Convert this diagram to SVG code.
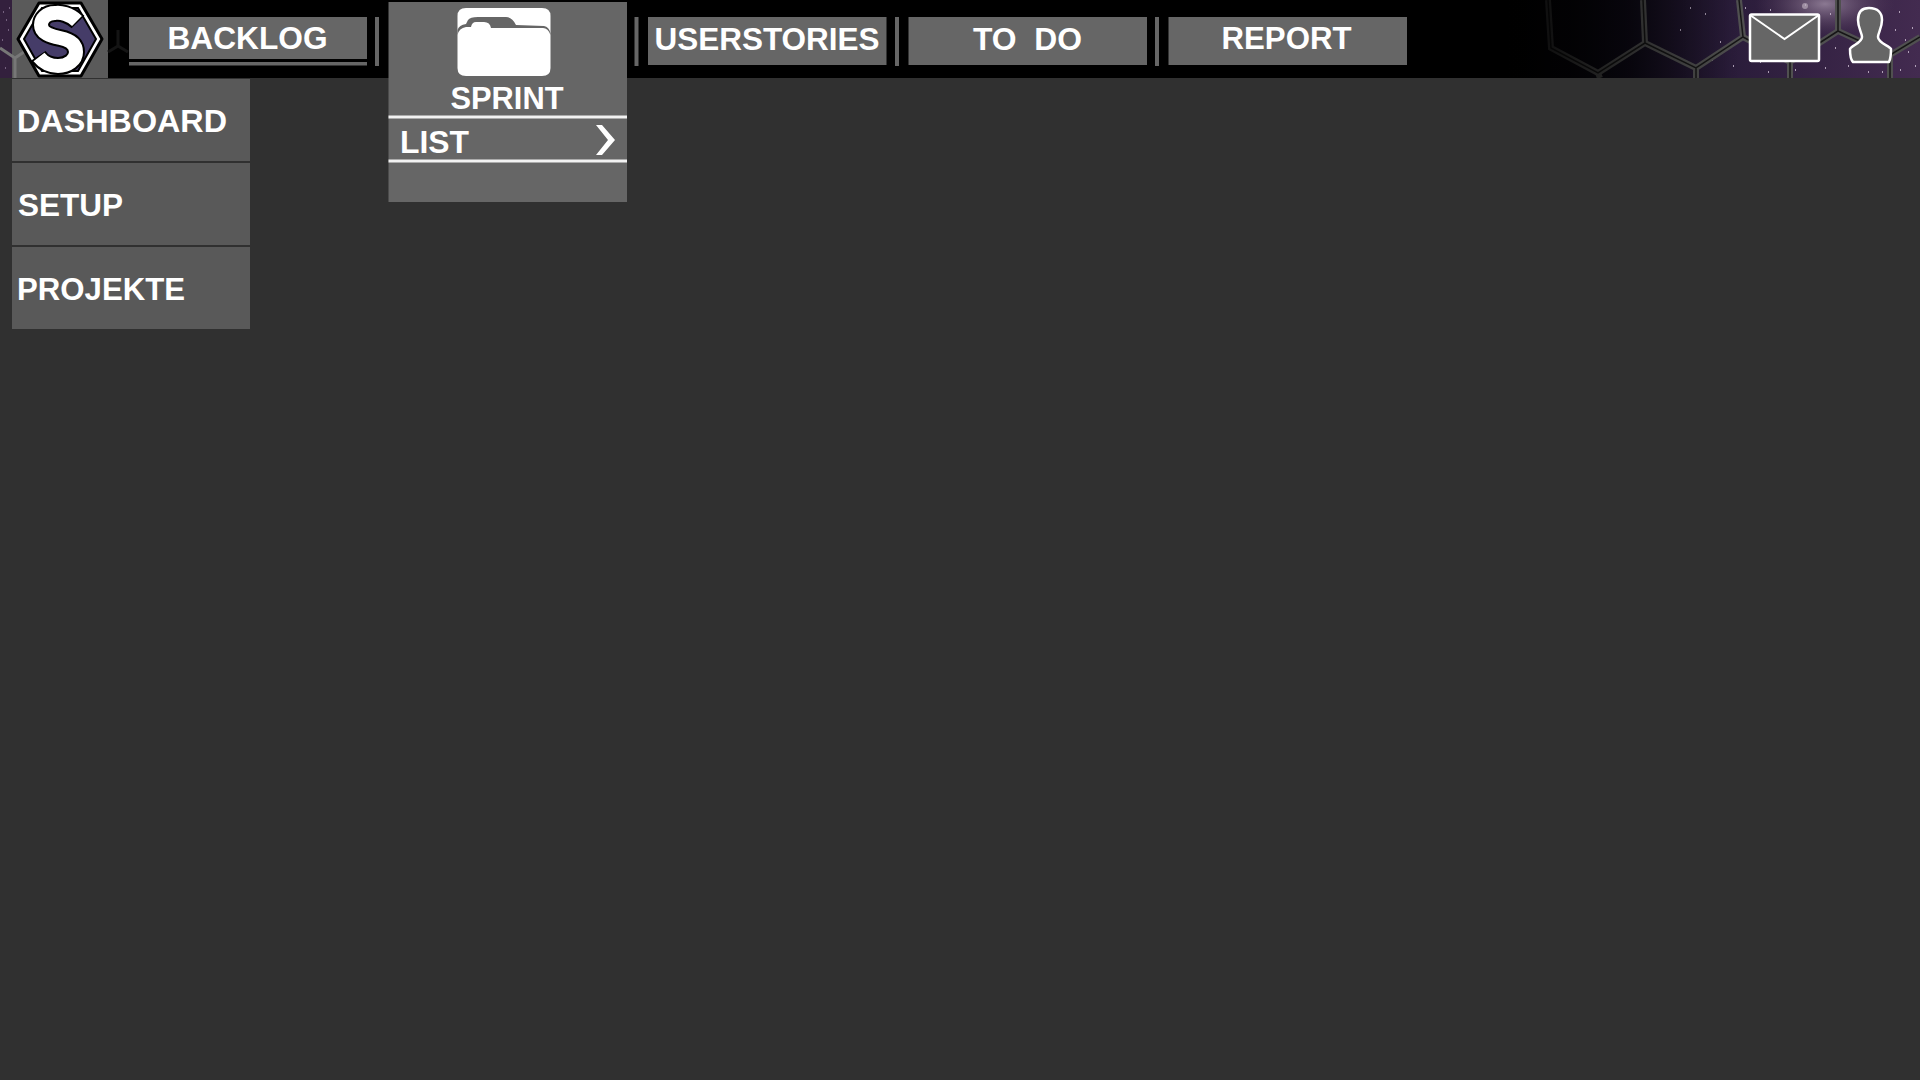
<svg xmlns="http://www.w3.org/2000/svg" width="1920" height="1080" viewBox="0 0 1920 1080">
<style>
.t{font-family:"Liberation Sans",Arial,sans-serif;font-weight:700;font-size:32px;fill:#fff}
.nav{fill:#666}
.side{fill:#595959}
.div{fill:#666}
.hex{fill:none;stroke:#505050;stroke-width:6}
.hexc{fill:none;stroke:#161616;stroke-width:1.500}
.ic{fill:#666;stroke:#fff;stroke-width:2.500;stroke-linejoin:round}
</style>
<defs>
<linearGradient id="sky" x1="0" y1="0" x2="1" y2="0">
<stop offset="0" stop-color="#000"/><stop offset=".3" stop-color="#0d0a16"/><stop offset=".55" stop-color="#2a1c3a"/><stop offset="1" stop-color="#432b50"/>
</linearGradient>
<linearGradient id="fade" x1="0" y1="0" x2="1" y2="0">
<stop offset="0" stop-color="#000"/><stop offset=".4" stop-color="#000" stop-opacity=".6"/><stop offset="1" stop-color="#000" stop-opacity="0"/>
</linearGradient>
<radialGradient id="neb"><stop offset="0" stop-color="#9a88a0" stop-opacity=".85"/><stop offset="1" stop-color="#5a4260" stop-opacity="0"/></radialGradient>
<clipPath id="hdr"><rect width="1920" height="78"/></clipPath>
</defs>
<rect id="page" width="1920" height="1080" fill="#303030"/>
<g id="header" clip-path="url(#hdr)">
<rect width="1920" height="78" fill="#000"/>
<rect x="1500" width="420" height="78" fill="url(#sky)"/>
<ellipse cx="1825" cy="4" rx="70" ry="32" fill="url(#neb)"/>
<path d="M1770 10h1M1781 22h1M1805 5h1M1812 30h1M1860 18h1M1873 40h1M1899 12h1M1908 52h1M1835 48h1M1760 62h1M1795 70h1M1848 66h1M1882 72h1M1705 14h1M1720 42h1M1680 30h1M1660 50h1M1900 70h1M1752 30h1M1830 14h1M1745 8h1M1768 72h1M1825 68h1M1858 52h1M1912 28h1M1895 30h1M1800 55h1M1776 48h1M1733 66h1M1712 60h1M1690 8h1M1868 72h1M1915 66h1M1905 40h1" stroke="#d6c8dc" stroke-width="1.400" fill="none"/>
<circle cx="1805" cy="6" r="3" fill="#b7a8b8" opacity=".7"/>
<g id="hexes">
<path class="hex" d="M1548 0L1551 48L1598 73L1645 43L1643 0M1645 43L1696 68L1743 37L1739 0M1696 68V78M1598 73L1600 78M1743 37L1790 62V78M1790 62L1838 31V0M1838 31L1890 55V78M1890 55L1920 37"/>
<path class="hexc" d="M1548 0L1551 48L1598 73L1645 43L1643 0M1645 43L1696 68L1743 37L1739 0M1696 68V78M1743 37L1790 62V78M1790 62L1838 31V0M1838 31L1890 55V78M1890 55L1920 37"/>
</g>
<rect x="1500" width="240" height="78" fill="url(#fade)"/>
<rect x="0" width="12" height="78" fill="#33203d"/>
<rect x="12" width="96" height="78" fill="#5a5a5a"/>
<path d="M0 48L15 58V78M15 58L30 48" fill="none" stroke="#777" stroke-width="3"/>
<path d="M3 12h1M8 30h1M5 68h1M2 40h1M9 8h1M6 20h1" stroke="#b59fc0" stroke-width="1.200"/>
<path d="M108 52L118 46L128 52M118 46V30" fill="none" stroke="#141414" stroke-width="3"/>
</g>
<g id="logo">
<path d="M39 3H81L102 39L81 76H39L18 39Z" fill="#fff" stroke="#000" stroke-width="3" stroke-linejoin="round"/>
<path d="M42 8H78L96 39L78 71H42L24 39Z" fill="#453c68" stroke="#000" stroke-width="2"/>
<path d="M78 22C70 14 60 12 55 13C46 13 41 19 41 25C41 33 50 36 60 38C70 40 76 44 76 52C76 60 68 66 58 66C50 66 42 62 38 56" fill="none" stroke="#000" stroke-width="18"/>
<path d="M77 21C70 14 60 12 55 13C46 13 41 19 41 25C41 33 50 36 60 38C70 40 76 44 76 52C76 60 68 66 58 66C50 66 43 62 39 57" fill="none" stroke="#fff" stroke-width="14"/>
</g>
<g id="nav-backlog">
<rect class="nav" x="129" y="17" width="238" height="42"/><rect class="nav" x="129" y="62" width="238" height="3.500"/>
<text class="t" x="167.500" y="48.500" textLength="160" lengthAdjust="spacingAndGlyphs">BACKLOG</text>
</g>
<g id="dividers">
<rect class="div" x="375" y="17" width="4" height="49"/><rect class="div" x="634.500" y="17" width="4" height="49"/><rect class="div" x="895" y="17" width="4" height="49"/><rect class="div" x="1155" y="17" width="4" height="49"/>
</g>
<g id="nav-sprint">
<rect class="nav" x="388.500" y="2" width="238.500" height="200"/>
<path d="M466 8H542Q550.500 8 550.500 16V68Q550.500 76 542 76H466Q457.500 76 457.500 68V16Q457.500 8 466 8Z" fill="#fff"/>
<path d="M457.500 30Q459 25 466 24L468 20Q470 17 478 17H506Q512 17 516 25L544 26Q549 27 550.500 33V35Q548 28 543 28H491Q490 22 484 22H476Q472 22 471 27H466Q459 28 457.500 35Z" fill="#666"/>
<text class="t" x="450.500" y="108.500" textLength="113" lengthAdjust="spacingAndGlyphs">SPRINT</text>
<rect x="388.500" y="115.500" width="238.500" height="3" fill="#f2f2f2"/>
<rect x="388.500" y="159.500" width="238.500" height="3" fill="#f2f2f2"/>
<text class="t" x="400" y="153" textLength="69" lengthAdjust="spacingAndGlyphs">LIST</text>
<path d="M596 125H602L615 140L602 155H596L608 140Z" fill="#fff"/>
</g>
<g id="nav-userstories">
<rect class="nav" x="648" y="17" width="238.500" height="48"/>
<text class="t" x="654.500" y="49.500" textLength="225" lengthAdjust="spacingAndGlyphs">USERSTORIES</text>
</g>
<g id="nav-todo">
<rect class="nav" x="908.500" y="17" width="238.500" height="48"/>
<text class="t" x="973" y="49.500" textLength="109" lengthAdjust="spacingAndGlyphs" xml:space="preserve">TO  DO</text>
</g>
<g id="nav-report">
<rect class="nav" x="1168.500" y="17" width="238.500" height="48"/>
<text class="t" x="1221.500" y="48.500" textLength="130" lengthAdjust="spacingAndGlyphs">REPORT</text>
</g>
<g id="side-dashboard"><rect class="side" x="12" y="79" width="238" height="82"/>
<text class="t" x="17" y="132" textLength="210" lengthAdjust="spacingAndGlyphs">DASHBOARD</text></g>
<g id="side-setup"><rect class="side" x="12" y="163" width="238" height="82"/>
<text class="t" x="18" y="216" textLength="105" lengthAdjust="spacingAndGlyphs">SETUP</text></g>
<g id="side-projekte"><rect class="side" x="12" y="247" width="238" height="82"/>
<text class="t" x="17" y="300" textLength="168" lengthAdjust="spacingAndGlyphs">PROJEKTE</text></g>
<g id="icon-mail">
<rect class="ic" x="1750" y="14.500" width="69" height="46.500" rx="1.500"/>
<path d="M1750 15L1784.500 39L1819 15" fill="none" stroke="#fff" stroke-width="2"/>
</g>
<g id="icon-user">
<path class="ic" d="M1869 8C1878 8 1882 13 1882 20C1882 28 1878 33 1878 37C1878 43 1890 46 1891 49C1891 55 1890 60 1889 62H1853C1851 60 1850 54 1850 49C1852 45 1862 43 1862 37C1862 33 1858 28 1858 20C1858 13 1861 8 1869 8Z"/>
</g>
</svg>
